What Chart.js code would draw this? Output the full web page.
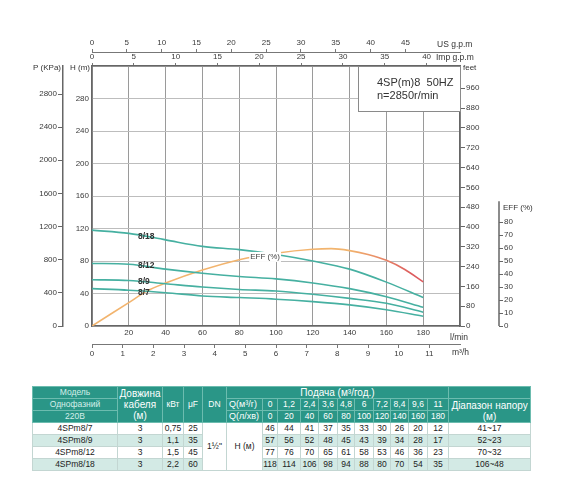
<!DOCTYPE html>
<html><head><meta charset="utf-8">
<script src="https://cdn.jsdelivr.net/npm/chart.js@4.4.1/dist/chart.umd.min.js"></script>
<style>
html,body{margin:0;padding:0;background:#fff;}
#wrap{position:absolute;left:0;top:0;width:570px;height:372px;}
#tbl{position:absolute;left:32px;top:386px;width:498px;border-collapse:collapse;table-layout:fixed;font-family:"Liberation Sans",Arial,sans-serif;font-size:8.5px;color:#222;}
#tbl td{padding:0;height:11px;line-height:11px;text-align:center;white-space:nowrap;overflow:hidden;}
#tbl tr.h td{background:#2a9687;color:#fff;border:1px solid #6cbcaf;}
#tbl tr.h td.pale{color:#d6efea;}
#tbl td.big{font-size:10px;}
#tbl td.ql{text-align:left;padding-left:2px;font-size:9px;}
#tbl tr.d td{border:1px solid #c3d6d2;}
#tbl tr.d.alt td{background:#d3eae5;}
#tbl tr.d td.w{background:#fff;}
</style></head><body>
<div id="wrap"><canvas id="c"></canvas></div>
<table id="tbl"></table>
<script>
// ---- data ----
const flowLmin = [0, 20, 40, 60, 80, 100, 120, 140, 160, 180];
const flowM3hLabels = ['0', '1,2', '2,4', '3,6', '4,8', '6', '7,2', '8,4', '9,6', '11'];
const models = ['4SPm8/7', '4SPm8/9', '4SPm8/12', '4SPm8/18'];
const curveNames = ['8/7', '8/9', '8/12', '8/18'];
const cableLen = ['3', '3', '3', '3'];
const powerKw = ['0,75', '1,1', '1,5', '2,2'];
const capUF = ['25', '35', '45', '60'];
const head8_7 = [46, 44, 41, 37, 35, 33, 30, 26, 20, 12];
const head8_9 = [57, 56, 52, 48, 45, 43, 39, 34, 28, 17];
const head8_12 = [77, 76, 70, 65, 61, 58, 53, 46, 36, 23];
const head8_18 = [118, 114, 106, 98, 94, 88, 80, 70, 54, 35];
const headRange = ['41~17', '52~23', '70~32', '106~48'];
const effFlow = [0, 20, 30, 40, 60, 80, 100, 120, 130, 140, 150, 160, 170, 180];
const effValues = [0, 18, 27, 33, 43, 51, 56, 59, 59.5, 58, 55, 50.5, 43.5, 34];
// tick labels
const lminTicks = [0, 20, 40, 60, 80, 100, 120, 140, 160, 180, 200];
const m3hTicks = [0, 1, 2, 3, 4, 5, 6, 7, 8, 9, 10, 11];
const usTicks = [0, 5, 10, 15, 20, 25, 30, 35, 40, 45];
const impTicks = [0, 5, 10, 15, 20, 25, 30, 35, 40];
const hTicks = [0, 40, 80, 120, 160, 200, 240, 280, 320];
const pTicks = [0, 400, 800, 1200, 1600, 2000, 2400, 2800];
const feetTicks = [0, 80, 160, 240, 320, 400, 480, 560, 640, 720, 800, 880, 960];
const effTicks = [0, 10, 20, 30, 40, 50, 60, 70, 80];

// ---- style / layout config ----
const FF = '"Liberation Sans", Arial, sans-serif';
const tickFont = {family: FF, size: 8};
const tickColor = '#3a3a3a';
const teal = '#46b0a1';
const axisColor = '#666';
const labelAnchors = [ // [flow l/min, head m] for curve labels
  [25, 40.6], [25, 55], [25, 74], [25, 109.5]
];
const heads = [head8_7, head8_9, head8_12, head8_18];
const plain = v => String(v);

function setTicks(list) { return s => { s.ticks = list.map(v => ({value: v})); }; }

const datasets = heads.map((h, i) => ({
  label: curveNames[i],
  data: flowLmin.map((q, k) => ({x: q, y: h[k]})),
  borderColor: teal, borderWidth: 1.6, pointRadius: 0,
  cubicInterpolationMode: 'monotone', xAxisID: 'x', yAxisID: 'y', fill: false
}));
datasets.push({
  label: 'EFF (%)',
  data: effFlow.map((q, k) => ({x: q, y: effValues[k]})),
  borderWidth: 1.6, pointRadius: 0, cubicInterpolationMode: 'monotone',
  xAxisID: 'x', yAxisID: 'eff', fill: false,
  borderColor: (c) => {
    const ch = c.chart; const a = ch.chartArea;
    if (!a) return '#f2b46e';
    const sx = ch.scales.x;
    const g = ch.ctx.createLinearGradient(sx.getPixelForValue(140), 0, sx.getPixelForValue(175), 0);
    g.addColorStop(0, '#f2b46e');
    g.addColorStop(1, '#dc5a5e');
    return g;
  }
});

const deco = {
  id: 'deco',
  afterDatasetsDraw(chart) {
    const {ctx, chartArea: a, scales} = chart;
    ctx.save();
    const bw = 102, bh = 45;
    ctx.fillStyle = '#fff';
    ctx.fillRect(a.right - bw, a.top, bw, bh);
    ctx.strokeStyle = '#8a8a8a'; ctx.lineWidth = 1;
    ctx.strokeRect(a.right - bw + 0.5, a.top + 0.5, bw, bh);
    ctx.fillStyle = '#333';
    ctx.font = '11px ' + FF;
    ctx.textBaseline = 'middle'; ctx.textAlign = 'left';
    ctx.fillText('4SP(m)8  50HZ', a.right - bw + 19, a.top + 17);
    ctx.fillText('n=2850r/min', a.right - bw + 19, a.top + 30);
    ctx.font = 'bold 8.5px ' + FF;
    ctx.fillStyle = '#333';
    labelAnchors.forEach((p, i) => {
      ctx.fillText(curveNames[i], scales.x.getPixelForValue(p[0]), scales.y.getPixelForValue(p[1]));
    });
    ctx.font = '8px ' + FF;
    const ex = scales.x.getPixelForValue(86), ey = scales.y.getPixelForValue(85);
    const tw = ctx.measureText('EFF (%)').width;
    ctx.fillStyle = '#fff';
    ctx.fillRect(ex - 1, ey - 5, tw + 2, 10);
    ctx.fillStyle = '#444';
    ctx.fillText('EFF (%)', ex, ey);
    ctx.restore();
  },
  afterDraw(chart) {
    const {ctx, chartArea: a, scales} = chart;
    ctx.save();
    const se = scales.eff;
    ctx.strokeStyle = axisColor; ctx.lineWidth = 1.5;
    ctx.beginPath();
    ctx.moveTo(se.left, se.getPixelForValue(0));
    ctx.lineTo(se.left, se.getPixelForValue(96));
    ctx.stroke();
    ctx.fillStyle = '#333';
    ctx.font = '8px ' + FF;
    ctx.textBaseline = 'middle';
    ctx.textAlign = 'left';
    ctx.fillText('EFF (%)', se.left + 4, se.getPixelForValue(91));
    ctx.textAlign = 'right';
    ctx.fillText('P (KPa)', scales.p.right - 2, a.top + 2);
    ctx.fillText('H (m)', a.left - 2, a.top + 2);
    ctx.textAlign = 'left';
    ctx.fillText('feet', a.right + 3, a.top + 2);
    ctx.font = '8.5px ' + FF;
    ctx.fillText('US g.p.m', a.right - 23, scales.us.top + 7);
    ctx.fillText('Imp g.p.m', a.right - 24, scales.imp.top + 6);
    ctx.fillText('l/min', a.right - 10, scales.x.top + 12);
    ctx.fillText('m\u00B3/h', a.right - 8, scales.m3h.top + 9);
    ctx.restore();
  }
};

new Chart(document.getElementById('c'), {
  type: 'line',
  data: {datasets},
  plugins: [deco],
  options: {
    responsive: true, maintainAspectRatio: false, animation: false,
    layout: {padding: {left: 20, right: 40, top: 38, bottom: 10}},
    plugins: {legend: {display: false}, tooltip: {enabled: false}},
    scales: {
      x: {
        type: 'linear', position: 'bottom', min: 0, max: 200, weight: 0,
        afterBuildTicks: setTicks(lminTicks),
        ticks: {font: tickFont, color: tickColor, padding: 2, autoSkip: false, maxRotation: 0,
                callback: v => (v === 0 || v === 200) ? '' : plain(v)},
        grid: {color: '#9a9a9a', lineWidth: 1, drawTicks: false},
        border: {color: axisColor, width: 1.5},
        afterFit: s => { s.height = 18; }
      },
      m3h: {
        type: 'linear', position: 'bottom', min: 0, max: 12, weight: 1,
        afterBuildTicks: setTicks(m3hTicks),
        ticks: {font: tickFont, color: tickColor, padding: 1, autoSkip: false, maxRotation: 0, callback: plain},
        grid: {drawOnChartArea: false, tickLength: 4, color: '#777'},
        border: {color: '#777', width: 1},
        afterFit: s => { s.height = 18; }
      },
      us: {
        type: 'linear', position: 'top', min: 0, max: 200 / 3.785411784, weight: 1,
        afterBuildTicks: setTicks(usTicks),
        ticks: {font: tickFont, color: tickColor, padding: 1, autoSkip: false, maxRotation: 0, callback: plain},
        grid: {drawOnChartArea: false, tickLength: 3, color: '#777'},
        border: {color: '#777', width: 1},
        afterFit: s => { s.height = 14; }
      },
      imp: {
        type: 'linear', position: 'top', min: 0, max: 200 / 4.54609, weight: 0,
        afterBuildTicks: setTicks(impTicks),
        ticks: {font: tickFont, color: tickColor, padding: 1, autoSkip: false, maxRotation: 0, callback: plain},
        grid: {drawOnChartArea: false, tickLength: 3, color: '#777'},
        border: {color: axisColor, width: 1.5},
        afterFit: s => { s.height = 14; }
      },
      y: {
        type: 'linear', position: 'left', min: 0, max: 320, weight: 0,
        afterBuildTicks: setTicks(hTicks),
        ticks: {font: tickFont, color: tickColor, padding: 3, callback: v => v === 320 ? '' : plain(v)},
        grid: {color: '#bdbdbd', lineWidth: 1, drawTicks: false},
        border: {color: axisColor, width: 1.5},
        afterFit: s => { s.width = 29; }
      },
      p: {
        type: 'linear', position: 'left', min: 0, max: 320 / 0.101972, weight: 1,
        afterBuildTicks: setTicks(pTicks),
        ticks: {font: tickFont, color: tickColor, padding: 1, callback: plain},
        grid: {drawOnChartArea: false, tickLength: 5, color: axisColor},
        border: {color: axisColor, width: 1.5},
        afterFit: s => { s.width = 43; }
      },
      feet: {
        type: 'linear', position: 'right', min: 0, max: 320 / 0.3048, weight: 0,
        afterBuildTicks: setTicks(feetTicks),
        ticks: {font: tickFont, color: tickColor, padding: 1, callback: plain},
        grid: {drawOnChartArea: false, tickLength: 5, color: axisColor},
        border: {color: axisColor, width: 1.5},
        afterFit: s => { s.width = 39; }
      },
      eff: {
        type: 'linear', position: 'right', min: 0, max: 200, weight: 1,
        afterBuildTicks: setTicks(effTicks),
        ticks: {font: tickFont, color: tickColor, padding: 1, callback: plain},
        grid: {drawOnChartArea: false, tickLength: 4, color: axisColor},
        border: {display: false},
        afterFit: s => { s.width = 31; }
      }
    }
  }
});

// ---- table ----
const colW = [85, 45, 21, 19, 24, 36, 15, 23, 18, 19, 17, 19, 17, 18, 19, 21, 82];
let html = '<colgroup>' + colW.map(w => `<col style="width:${w}px">`).join('') + '</colgroup>';
html += '<tr class="h"><td class="pale">Модель</td><td rowspan="3" class="big">Довжина<br>кабеля<br>(м)</td>' +
        '<td rowspan="3">кВт</td><td rowspan="3">μF</td><td rowspan="3">DN</td>' +
        '<td colspan="11" class="big">Подача (м³/год.)</td><td></td></tr>';
html += '<tr class="h"><td class="pale">Однофазний</td><td class="ql">Q(м³/г)</td>' +
        flowM3hLabels.map(v => `<td>${v}</td>`).join('') +
        '<td rowspan="2" class="big" style="line-height:11px">Діапазон напору<br>(м)</td></tr>';
html += '<tr class="h"><td class="pale">220В</td><td class="ql">Q(л/хв)</td>' +
        flowLmin.map(v => `<td>${v}</td>`).join('') + '</tr>';
models.forEach((m, i) => {
  html += `<tr class="d${i % 2 ? ' alt' : ''}"><td>${m}</td><td>${cableLen[i]}</td><td>${powerKw[i]}</td><td>${capUF[i]}</td>`;
  if (i === 0) html += '<td rowspan="4" class="w">1½"</td><td rowspan="4" class="w">H (м)</td>';
  html += heads[i].map(v => `<td>${v}</td>`).join('') + `<td>${headRange[i]}</td></tr>`;
});
document.getElementById('tbl').innerHTML = html;
</script>
</body></html>
